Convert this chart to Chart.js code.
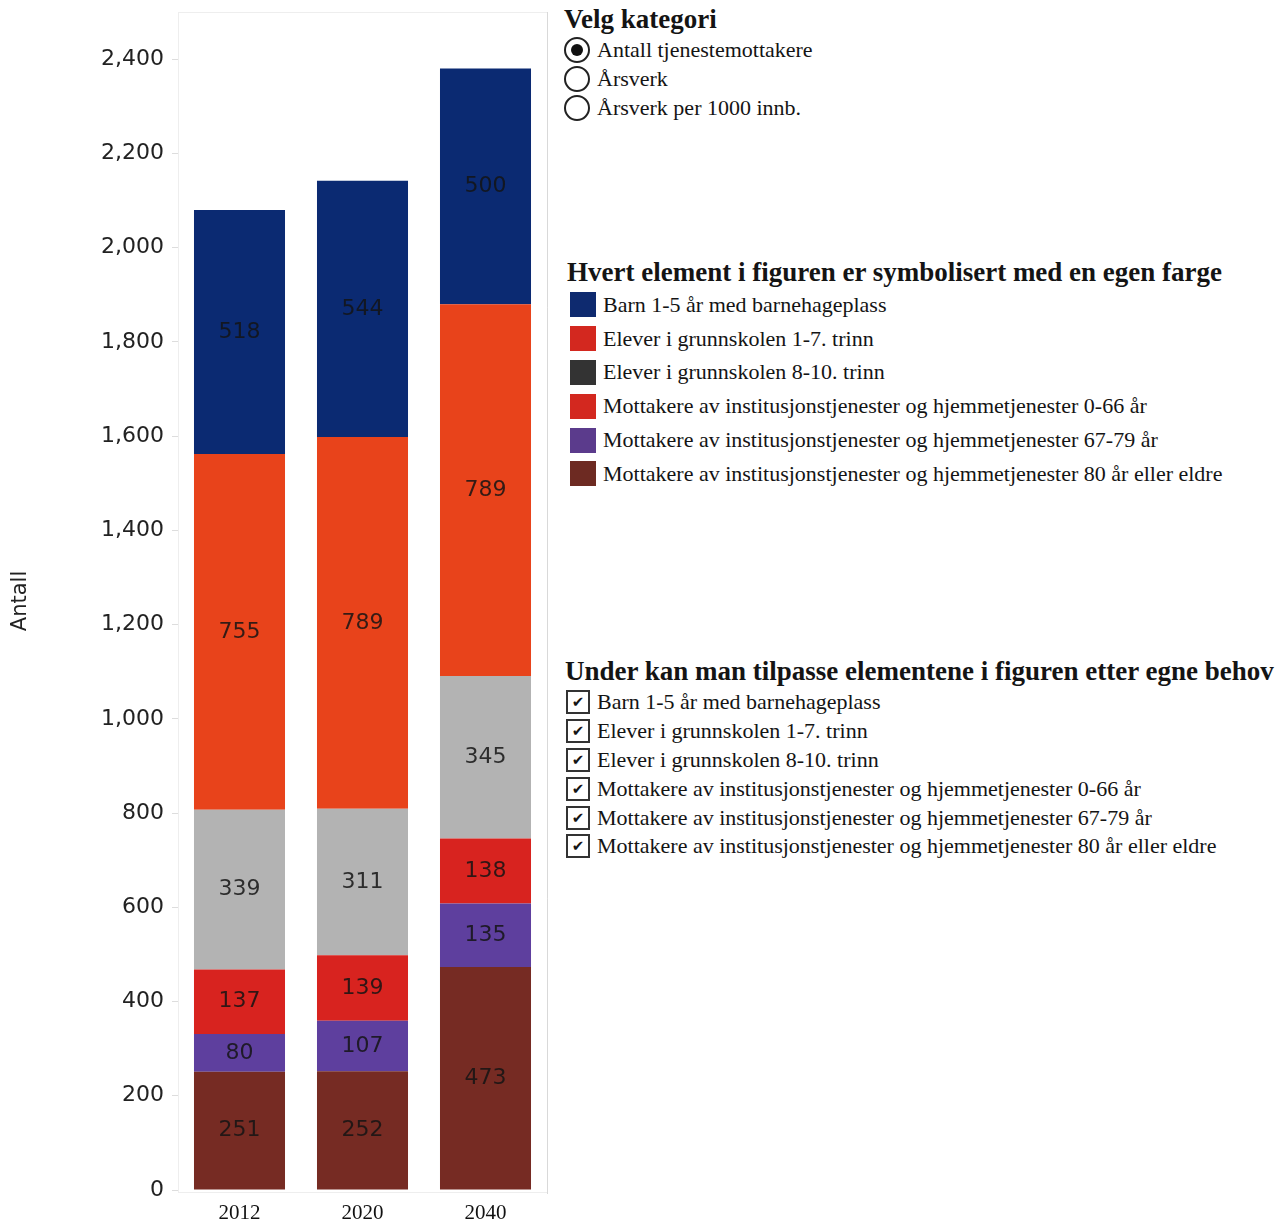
<!DOCTYPE html>
<html>
<head>
<meta charset="utf-8">
<script src="https://cdn.jsdelivr.net/npm/chart.js@4.4.1/dist/chart.umd.min.js"></script>
<style>
  body { margin: 0; background: #fff; width: 1279px; height: 1223px; overflow: hidden; position: relative;
         font-family: "Liberation Serif", "Times New Roman", serif; color: #141414; }
  #chartBox { position: absolute; left: 0; top: 0; width: 560px; height: 1223px; }
  .title { position: absolute; font-size: 27px; font-weight: bold; line-height: 30px; white-space: nowrap; }
  .list { position: absolute; }
  .row { display: flex; align-items: center; font-size: 22px; white-space: nowrap; }
  .radio { width: 22px; height: 22px; border: 2px solid #222; border-radius: 50%; margin-right: 7px;
           display: flex; align-items: center; justify-content: center; box-sizing: content-box; }
  .radio.on::after { content: ""; width: 12px; height: 12px; border-radius: 50%; background: #111; }
  .swatch { width: 26px; height: 25px; margin-right: 7px; }
  .check { width: 20px; height: 20px; border: 2px solid #333; margin-right: 7px; font-size: 15px;
           display: flex; align-items: center; justify-content: center; font-family: "DejaVu Sans", sans-serif; }
</style>
</head>
<body>
<div id="chartBox"><canvas id="chart" width="560" height="1223"></canvas></div>

<div class="title" style="left:564px; top:4px;">Velg kategori</div>
<div class="list" id="radios" style="left:564px; top:35px;"></div>

<div class="title" style="left:567px; top:257px;">Hvert element i figuren er symbolisert med en egen farge</div>
<div class="list" id="legend" style="left:570px; top:288px;"></div>

<div class="title" style="left:565px; top:656px;">Under kan man tilpasse elementene i figuren etter egne behov</div>
<div class="list" id="checks" style="left:566px; top:688px;"></div>

<script>
const years = ["2012", "2020", "2040"];

// series, bottom of the stack first
const mottakere80 = [251, 252, 473];
const mottakere6779 = [80, 107, 135];
const mottakere066 = [137, 139, 138];
const elever810 = [339, 311, 345];
const elever17 = [755, 789, 789];
const barn = [518, 544, 500];

const yTicks = [0, 200, 400, 600, 800, 1000, 1200, 1400, 1600, 1800, 2000, 2200, 2400];

const categories = ["Antall tjenestemottakere", "Årsverk", "Årsverk per 1000 innb."];

const legendNames = [
  "Barn 1-5 år med barnehageplass",
  "Elever i grunnskolen 1-7. trinn",
  "Elever i grunnskolen 8-10. trinn",
  "Mottakere av institusjonstjenester og hjemmetjenester 0-66 år",
  "Mottakere av institusjonstjenester og hjemmetjenester 67-79 år",
  "Mottakere av institusjonstjenester og hjemmetjenester 80 år eller eldre",
];
const legendColors = ["#0e2a6f", "#d3281f", "#333333", "#d3281f", "#5b3b8c", "#6d2a22"];

// bar colours, same order as legendNames
const barColors = ["#0b2a72", "#e8431b", "#b3b3b3", "#d8231f", "#5e3f9e", "#762b23"];

// sidebar controls
document.getElementById("radios").innerHTML = categories.map((c, i) =>
  `<div class="row" style="height:29px"><span class="radio ${i === 0 ? "on" : ""}"></span>${c}</div>`).join("");
document.getElementById("legend").innerHTML = legendNames.map((n, i) =>
  `<div class="row" style="height:33.8px"><span class="swatch" style="background:${legendColors[i]}"></span>${n}</div>`).join("");
document.getElementById("checks").innerHTML = legendNames.map(n =>
  `<div class="row" style="height:28.8px"><span class="check">✔</span>${n}</div>`).join("");

const stack = [
  { name: legendNames[5], data: mottakere80, color: barColors[5] },
  { name: legendNames[4], data: mottakere6779, color: barColors[4] },
  { name: legendNames[3], data: mottakere066, color: barColors[3] },
  { name: legendNames[2], data: elever810, color: barColors[2] },
  { name: legendNames[1], data: elever17, color: barColors[1] },
  { name: legendNames[0], data: barn, color: barColors[0] },
];

// light frame round the plot area
const plotFrame = {
  id: "plotFrame",
  beforeDatasetsDraw(chart) {
    const { ctx, chartArea: a } = chart;
    ctx.save();
    ctx.strokeStyle = "#eeeeee";
    ctx.lineWidth = 1;
    ctx.strokeRect(a.left + 0.5, a.top + 0.5, a.right - a.left, a.bottom - a.top + 2);
    ctx.strokeStyle = "#d9d9d9";
    ctx.beginPath();
    ctx.moveTo(a.right + 0.5, a.top);
    ctx.lineTo(a.right + 0.5, a.bottom + 4);
    ctx.stroke();
    ctx.restore();
  },
};

// value printed in the middle of each segment
const segmentLabels = {
  id: "segmentLabels",
  afterDatasetsDraw(chart) {
    const ctx = chart.ctx;
    ctx.save();
    ctx.font = '22px "DejaVu Sans", Verdana, sans-serif';
    ctx.fillStyle = "rgba(20,20,20,0.85)";
    ctx.textAlign = "center";
    ctx.textBaseline = "middle";
    chart.data.datasets.forEach((ds, i) => {
      chart.getDatasetMeta(i).data.forEach((bar, j) => {
        const { x, y, base } = bar.getProps(["x", "y", "base"], true);
        ctx.fillText(ds.data[j], x, (y + base) / 2);
      });
    });
    ctx.restore();
  },
};

new Chart(document.getElementById("chart"), {
  type: "bar",
  data: {
    labels: years,
    datasets: stack.map(s => ({
      label: s.name,
      data: s.data,
      backgroundColor: s.color,
      borderWidth: 0,
      barPercentage: 0.74,
      categoryPercentage: 1,
    })),
  },
  options: {
    responsive: false,
    animation: false,
    devicePixelRatio: 1,
    layout: { padding: { top: 12, right: 13, left: 0, bottom: 0 } },
    plugins: {
      legend: { display: false },
      tooltip: { enabled: false },
    },
    scales: {
      x: {
        stacked: true,
        grid: { display: false },
        border: { display: false },
        ticks: {
          color: "#111",
          padding: 3,
          font: { family: '"Liberation Serif", "Times New Roman", serif', size: 21 },
        },
        afterFit(scale) { scale.height = 33; },
      },
      y: {
        stacked: true,
        min: 0,
        max: 2500,
        afterBuildTicks(scale) {
          scale.ticks = yTicks.map(v => ({ value: v }));
        },
        grid: { drawOnChartArea: false, tickLength: 6, color: "#dddddd" },
        border: { display: false },
        ticks: {
          color: "#222",
          padding: 8,
          font: { family: '"DejaVu Sans", Verdana, sans-serif', size: 22 },
          callback: v => v.toLocaleString("en-US"),
        },
        title: {
          display: true,
          text: "Antall",
          color: "#222",
          padding: { top: 8, bottom: 0 },
          font: { family: '"DejaVu Sans", Verdana, sans-serif', size: 21 },
        },
        afterFit(scale) {
          scale.width = 178;
          scale.paddingTop = 0;
          scale.paddingBottom = 0;
        },
      },
    },
  },
  plugins: [plotFrame, segmentLabels],
});
</script>
</body>
</html>
